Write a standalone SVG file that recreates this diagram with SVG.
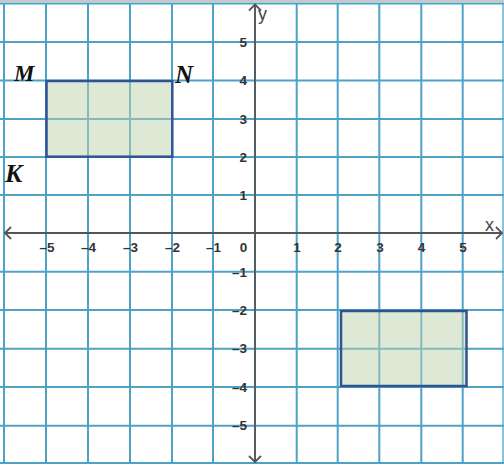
<svg xmlns="http://www.w3.org/2000/svg" width="504" height="466" viewBox="0 0 504 466">
<style>
.grid line{stroke:#4da2c7;stroke-width:2}
.axis{stroke:#555;stroke-width:1.8;fill:none}
.tick{font-family:"Liberation Sans",Arial,sans-serif;font-weight:bold;font-size:13.5px;fill:#333}
.tx{text-anchor:middle}
.ty{text-anchor:end}
.shape{fill:#bbd3a9;fill-opacity:0.5;stroke:#2f5496;stroke-width:2.5}
.pt{font-family:"Liberation Serif","Times New Roman",serif;font-weight:bold;font-style:italic;fill:#111}
.axl{font-family:"Liberation Sans",Arial,sans-serif;font-size:18px;fill:#444}
</style>
<rect x="0" y="0" width="504" height="466" fill="#fff"/>
<line x1="0" y1="1" x2="504" y2="1" stroke="#c8c8c8" stroke-width="2"/>
<g class="grid" id="grid">
<line x1="4" y1="3.5" x2="4" y2="463"/>
<line x1="46" y1="3.5" x2="46" y2="463"/>
<line x1="88" y1="3.5" x2="88" y2="463"/>
<line x1="130" y1="3.5" x2="130" y2="463"/>
<line x1="172" y1="3.5" x2="172" y2="463"/>
<line x1="213" y1="3.5" x2="213" y2="463"/>
<line x1="255" y1="3.5" x2="255" y2="463"/>
<line x1="296.7" y1="3.5" x2="296.7" y2="463"/>
<line x1="337.7" y1="3.5" x2="337.7" y2="463"/>
<line x1="379.3" y1="3.5" x2="379.3" y2="463"/>
<line x1="421.3" y1="3.5" x2="421.3" y2="463"/>
<line x1="462.7" y1="3.5" x2="462.7" y2="463"/>
<line x1="503" y1="3.5" x2="503" y2="463" style="stroke:#8cc3dc"/>
<line x1="0" y1="3.5" x2="504" y2="3.5"/>
<line x1="0" y1="42" x2="504" y2="42"/>
<line x1="0" y1="80.5" x2="504" y2="80.5"/>
<line x1="0" y1="119" x2="504" y2="119"/>
<line x1="0" y1="157" x2="504" y2="157"/>
<line x1="0" y1="195" x2="504" y2="195"/>
<line x1="0" y1="271.7" x2="504" y2="271.7"/>
<line x1="0" y1="310" x2="504" y2="310"/>
<line x1="0" y1="348.7" x2="504" y2="348.7"/>
<line x1="0" y1="387" x2="504" y2="387"/>
<line x1="0" y1="425.7" x2="504" y2="425.7"/>
<line x1="0" y1="463" x2="504" y2="463"/>
</g>
<g id="rect-MNK">
<rect class="shape" x="46.5" y="81" width="125.8" height="75.7"/>
</g>
<g id="rect-image">
<rect class="shape" x="341" y="311" width="125.5" height="75"/>
</g>
<g id="axes">
<line class="axis" x1="5" y1="233" x2="502" y2="233"/>
<line class="axis" x1="255" y1="4.5" x2="255" y2="462"/>
<polyline class="axis" points="11,227 5,233 11,239"/>
<polyline class="axis" points="496,227 502,233 496,239"/>
<polyline class="axis" points="249,10.5 255,4.5 261,10.5"/>
<polyline class="axis" points="249,456 255,462 261,456"/>
<text class="axl" x="485" y="231">x</text>
<text class="axl" x="258" y="20">y</text>
</g>
<g id="xticks" class="tick tx">
<text x="47" y="251.5">–5</text>
<text x="88.5" y="251.5">–4</text>
<text x="130.5" y="251.5">–3</text>
<text x="172.5" y="251.5">–2</text>
<text x="213.5" y="251.5">–1</text>
<text x="243.5" y="251.5">0</text>
<text x="297" y="251.5">1</text>
<text x="338" y="251.5">2</text>
<text x="380" y="251.5">3</text>
<text x="421.5" y="251.5">4</text>
<text x="463" y="251.5">5</text>
</g>
<g id="yticks" class="tick ty">
<text x="247" y="46.5">5</text>
<text x="247" y="85">4</text>
<text x="247" y="123.5">3</text>
<text x="247" y="161.5">2</text>
<text x="247" y="199.5">1</text>
<text x="247" y="276.5">–1</text>
<text x="247" y="314.5">–2</text>
<text x="247" y="353">–3</text>
<text x="247" y="391.5">–4</text>
<text x="247" y="430">–5</text>
</g>
<g id="label-M"><text class="pt" x="14" y="81" font-size="23">M</text></g>
<g id="label-N"><text class="pt" x="175" y="83" font-size="25">N</text></g>
<g id="label-K"><text class="pt" x="5" y="182" font-size="26">K</text></g>
</svg>
